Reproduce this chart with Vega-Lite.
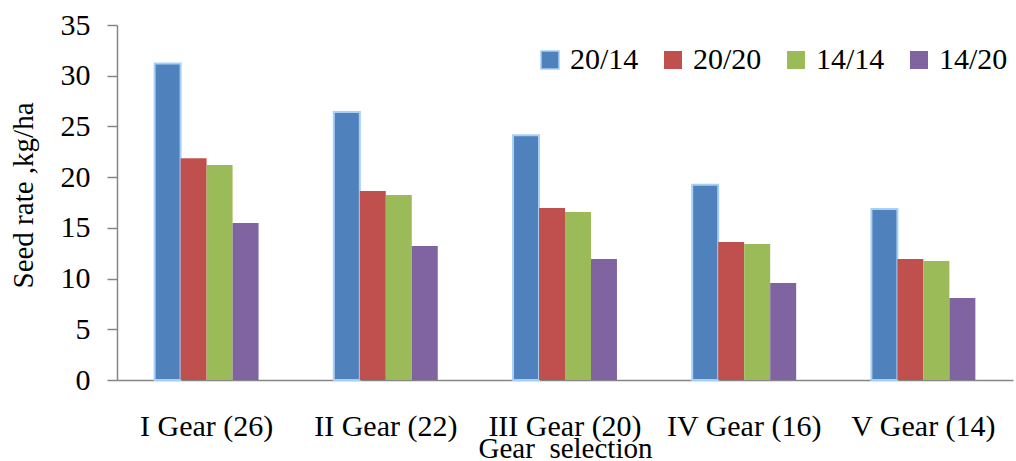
{
  "$schema": "https://vega.github.io/schema/vega-lite/v6.json",
  "width": 896,
  "height": 355,
  "autosize": "none",
  "padding": {"left": 117, "top": 25, "right": 3, "bottom": 81},
  "background": "white",
  "config": {
    "view": {"stroke": null},
    "font": "Liberation Serif",
    "axis": {"grid": false, "labelFont": "Liberation Serif", "titleFont": "Liberation Serif", "labelColor": "black", "titleColor": "black", "titleFontWeight": "normal", "domainColor": "#868686", "tickColor": "#868686", "domainWidth": 1.5, "tickWidth": 1.5},
    "legend": {"labelFont": "Liberation Serif"}
  },
  "data": {
    "values": [
      {"gear": "I Gear (26)", "series": "20/14", "value": 31.2},
      {"gear": "I Gear (26)", "series": "20/20", "value": 21.86},
      {"gear": "I Gear (26)", "series": "14/14", "value": 21.2},
      {"gear": "I Gear (26)", "series": "14/20", "value": 15.48},
      {"gear": "II Gear (22)", "series": "20/14", "value": 26.42},
      {"gear": "II Gear (22)", "series": "20/20", "value": 18.63},
      {"gear": "II Gear (22)", "series": "14/14", "value": 18.24},
      {"gear": "II Gear (22)", "series": "14/20", "value": 13.21},
      {"gear": "III Gear (20)", "series": "20/14", "value": 24.12},
      {"gear": "III Gear (20)", "series": "20/20", "value": 16.96},
      {"gear": "III Gear (20)", "series": "14/14", "value": 16.56},
      {"gear": "III Gear (20)", "series": "14/20", "value": 11.93},
      {"gear": "IV Gear (16)", "series": "20/14", "value": 19.26},
      {"gear": "IV Gear (16)", "series": "20/20", "value": 13.6},
      {"gear": "IV Gear (16)", "series": "14/14", "value": 13.4},
      {"gear": "IV Gear (16)", "series": "14/20", "value": 9.56},
      {"gear": "V Gear (14)", "series": "20/14", "value": 16.86},
      {"gear": "V Gear (14)", "series": "20/20", "value": 11.93},
      {"gear": "V Gear (14)", "series": "14/14", "value": 11.73},
      {"gear": "V Gear (14)", "series": "14/20", "value": 8.08}
    ]
  },
  "mark": {"type": "bar", "strokeWidth": 2},
  "encoding": {
    "x": {
      "field": "gear", "type": "nominal", "sort": null,
      "scale": {"paddingInner": 0.42, "paddingOuter": 0.21},
      "axis": {"title": "Gear \u00a0selection", "labelAngle": 0, "labelFont": "Liberation Serif", "titleFont": "Liberation Serif", "labelFontSize": 30, "ticks": false, "labelPadding": 55, "labelBaseline": "alphabetic", "titleFontSize": 29, "titleY": 77, "titleBaseline": "alphabetic"}
    },
    "xOffset": {"field": "series", "type": "nominal", "sort": ["20/14", "20/20", "14/14", "14/20"], "scale": {"paddingInner": 0, "paddingOuter": 0}},
    "y": {
      "field": "value", "type": "quantitative",
      "scale": {"domain": [0, 35], "nice": false},
      "axis": {"title": "Seed rate ,kg/ha", "values": [0, 5, 10, 15, 20, 25, 30, 35], "labelFont": "Liberation Serif", "titleFont": "Liberation Serif", "tickSize": 10, "labelPadding": 17, "labelFontSize": 30, "titleFontSize": 29, "titleAngle": -90, "titleX": -94, "titleY": 170, "titleAlign": "center", "titleBaseline": "middle"}
    },
    "color": {
      "field": "series", "type": "nominal", "sort": ["20/14", "20/20", "14/14", "14/20"],
      "scale": {"domain": ["20/14", "20/20", "14/14", "14/20"], "range": ["#4f81bd", "#c0504d", "#9bbb59", "#8064a2"]},
      "legend": {"title": null, "orient": "none", "direction": "horizontal", "legendX": 418, "legendY": 20, "symbolType": "square", "symbolSize": 324, "labelFont": "Liberation Serif", "labelFontSize": 30, "labelOffset": 5, "columnPadding": 19, "symbolOpacity": 1, "labelColor": "black"}
    },
    "stroke": {
      "field": "series", "type": "nominal", "sort": ["20/14", "20/20", "14/14", "14/20"],
      "scale": {"domain": ["20/14", "20/20", "14/14", "14/20"], "range": ["#a8cff5", "transparent", "transparent", "transparent"]},
      "legend": null
    }
  }
}
